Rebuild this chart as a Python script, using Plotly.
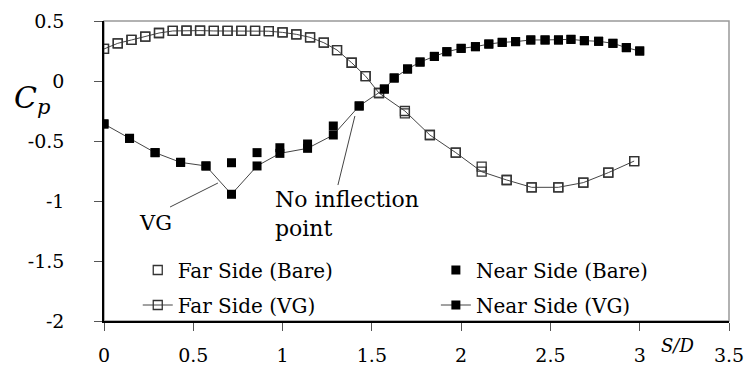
import plotly.graph_objects as go

# ---- data ----
far_x = [0, 0.077, 0.154, 0.231, 0.308, 0.385, 0.462, 0.538, 0.615, 0.692, 0.769,
         0.846, 0.923, 1.0, 1.077, 1.154, 1.231, 1.305, 1.387, 1.465, 1.54,
         1.685, 1.825, 1.97, 2.115, 2.255, 2.395, 2.544, 2.684, 2.824, 2.969]
far_bare = [0.267, 0.314, 0.342, 0.37, 0.40, 0.417, 0.42, 0.42, 0.417, 0.417, 0.417,
            0.417, 0.415, 0.405, 0.389, 0.364, 0.319, 0.258, 0.152, 0.04, -0.10,
            -0.27, -0.45, -0.597, -0.714, -0.825, -0.886, -0.886, -0.847, -0.764, -0.667]
far_vg = [0.267, 0.314, 0.342, 0.37, 0.40, 0.417, 0.42, 0.42, 0.417, 0.417, 0.417,
          0.417, 0.415, 0.405, 0.389, 0.364, 0.319, 0.258, 0.152, 0.04, -0.10,
          -0.25, -0.45, -0.597, -0.756, -0.825, -0.886, -0.886, -0.847, -0.764, -0.667]

near_x = [0, 0.143, 0.286, 0.429, 0.571, 0.714, 0.857, 0.985, 1.14, 1.284, 1.429,
          1.57, 1.625, 1.70, 1.77, 1.85, 1.92, 2.0, 2.08, 2.155, 2.23,
          2.305, 2.39, 2.47, 2.545, 2.615, 2.69, 2.77, 2.85, 2.925, 3.0]
near_bare = [-0.358, -0.478, -0.597, -0.678, -0.708, -0.681, -0.597, -0.556, -0.525, -0.375, -0.208,
             -0.067, 0.025, 0.10, 0.158, 0.205, 0.244, 0.272, 0.286, 0.308, 0.322,
             0.328, 0.342, 0.342, 0.342, 0.347, 0.336, 0.331, 0.314, 0.278, 0.25]
near_vg = [-0.358, -0.478, -0.597, -0.678, -0.708, -0.944, -0.708, -0.603, -0.561, -0.45, -0.208,
           -0.067, 0.025, 0.10, 0.158, 0.205, 0.244, 0.272, 0.286, 0.308, 0.322,
           0.328, 0.342, 0.342, 0.342, 0.347, 0.336, 0.331, 0.314, 0.278, 0.25]

x_ticks = [0, 0.5, 1, 1.5, 2, 2.5, 3, 3.5]
x_tick_labels = ["0", "0.5", "1", "1.5", "2", "2.5", "3", "3.5"]
y_ticks = [-2, -1.5, -1, -0.5, 0, 0.5]
y_tick_labels = ["-2", "-1.5", "-1", "-0.5", "0", "0.5"]

FONT = "DejaVu Serif"
LINE_C = "#444444"

fig = go.Figure()
fig.add_trace(go.Scatter(x=far_x, y=far_bare, mode="markers", name="Far Side (Bare)",
                         marker=dict(symbol="square-open", size=9, color="#333333",
                                     line=dict(width=1.3, color="#333333")),
                         legend="legend", legendgroup="a"))
fig.add_trace(go.Scatter(x=far_x, y=far_vg, mode="lines+markers", name="Far Side (VG)",
                         line=dict(color=LINE_C, width=1),
                         marker=dict(symbol="square-open", size=9, color="#333333",
                                     line=dict(width=1.3, color="#333333")),
                         legend="legend", legendgroup="b"))
fig.add_trace(go.Scatter(x=near_x, y=near_bare, mode="markers", name="Near Side (Bare)",
                         marker=dict(symbol="square", size=9, color="black"),
                         legend="legend2", legendgroup="c"))
fig.add_trace(go.Scatter(x=near_x, y=near_vg, mode="lines+markers", name="Near Side (VG)",
                         line=dict(color=LINE_C, width=1),
                         marker=dict(symbol="square", size=9, color="black"),
                         legend="legend2", legendgroup="d"))

legend_common = dict(font=dict(family=FONT, size=20, color="black"),
                     bgcolor="rgba(0,0,0,0)", itemwidth=30, tracegroupgap=6,
                     traceorder="grouped",
                     xanchor="left", yanchor="top", orientation="v")

fig.update_layout(
    width=751, height=367,
    margin=dict(l=104, r=22, t=21, b=46),
    paper_bgcolor="white", plot_bgcolor="white",
    font=dict(family=FONT, size=19, color="black"),
    showlegend=True,
    legend=dict(x=0.054, y=0.235, **legend_common),
    legend2=dict(x=0.531, y=0.235, **legend_common),
    xaxis=dict(range=[0, 3.5], tickvals=x_ticks, ticktext=x_tick_labels,
               showgrid=False, zeroline=False, showline=True, linecolor="black", linewidth=1.5,
               ticks="outside", ticklen=8, tickcolor="#555555", tickwidth=1,
               ticklabelstandoff=8, automargin=False,
               tickfont=dict(family=FONT, size=19, color="black")),
    yaxis=dict(range=[-2, 0.5], tickvals=y_ticks, ticktext=y_tick_labels,
               showgrid=False, zeroline=False, showline=True, linecolor="black", linewidth=1.5,
               ticks="outside", ticklen=8, tickcolor="#555555", tickwidth=1,
               ticklabelstandoff=26, automargin=False,
               tickfont=dict(family=FONT, size=19, color="black")),
    shapes=[
        dict(type="rect", xref="paper", yref="paper", x0=0, x1=1, y0=0, y1=1,
             line=dict(color="#999999", width=1.5), layer="below"),
        dict(type="line", xref="x", yref="y", x0=0.37, y0=-1.05, x1=0.638, y1=-0.85,
             line=dict(color=LINE_C, width=1)),
        dict(type="line", xref="x", yref="y", x0=1.31, y0=-0.867, x1=1.405, y1=-0.292,
             line=dict(color=LINE_C, width=1)),
    ],
    annotations=[
        dict(text="VG", x=0.286, y=-1.183, xref="x", yref="y", showarrow=False,
             xanchor="center", yanchor="middle",
             font=dict(family=FONT, size=21, color="black")),
        dict(text="No inflection<br>point", x=0.946, y=-1.108, xref="x", yref="y",
             showarrow=False, xanchor="left", yanchor="middle", align="left",
             font=dict(family=FONT, size=22, color="black")),
        dict(text="<i>C<sub>p</sub></i>", x=-0.115, y=0.74, xref="paper", yref="paper",
             showarrow=False, xanchor="center", yanchor="middle",
             font=dict(family=FONT, size=30, color="black")),
        dict(text="<i>S/D</i>", x=0.918, y=-0.08, xref="paper", yref="paper",
             showarrow=False, xanchor="center", yanchor="middle",
             font=dict(family=FONT, size=18, color="black")),
    ],
)

fig.write_html("out.html")
